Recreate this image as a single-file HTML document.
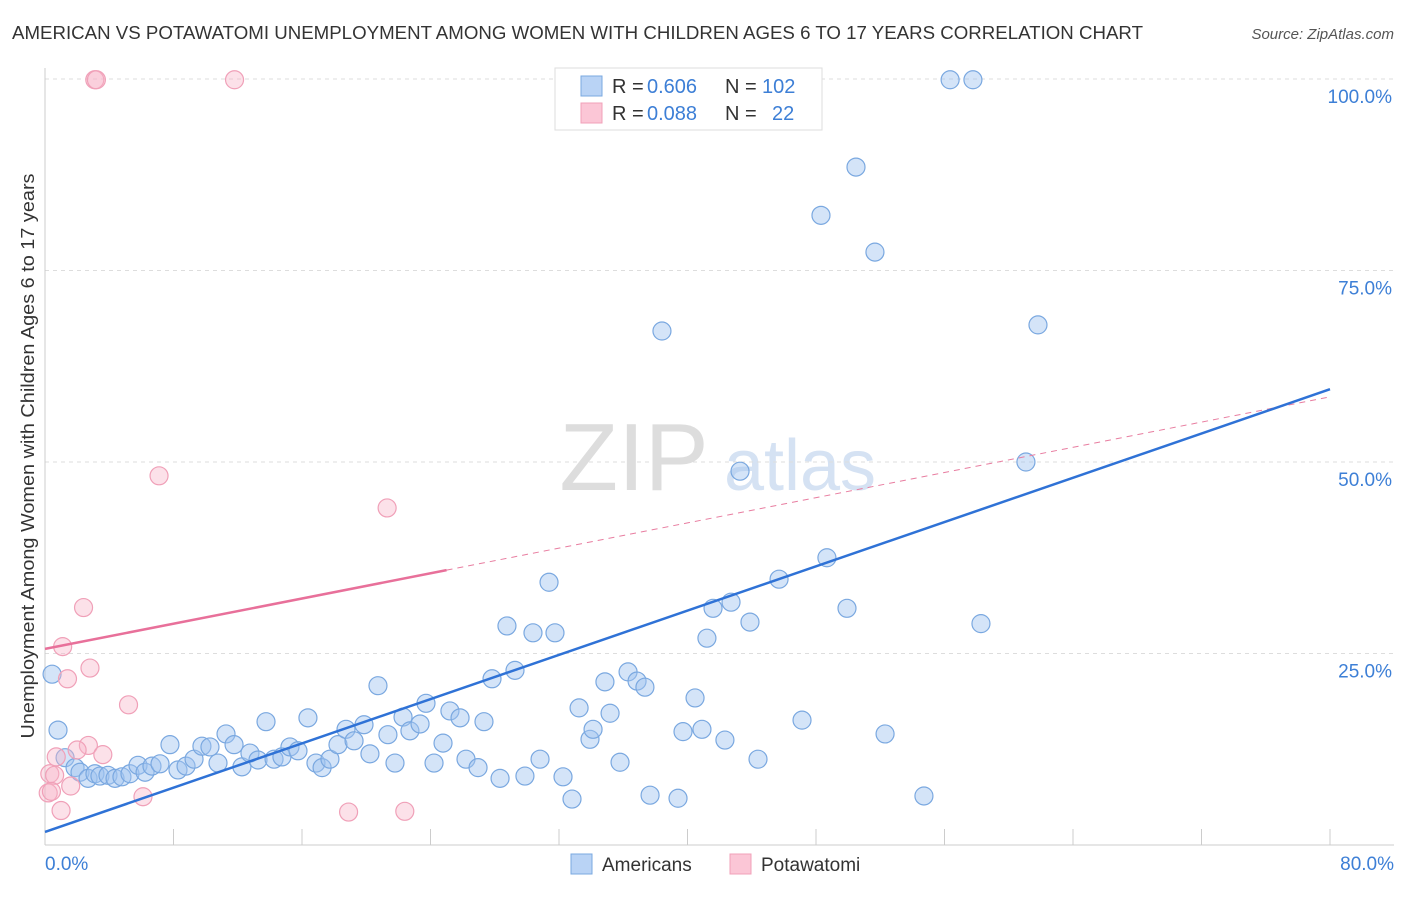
<!DOCTYPE html>
<html><head><meta charset="utf-8">
<style>
body{margin:0;background:#fff;font-family:"Liberation Sans",sans-serif;}
svg text{font-family:"Liberation Sans",sans-serif;}
</style></head>
<body>
<svg id="chart" width="1406" height="892" xmlns="http://www.w3.org/2000/svg">
<text x="12" y="39" font-size="18" fill="#333" textLength="1131" lengthAdjust="spacingAndGlyphs">AMERICAN VS POTAWATOMI UNEMPLOYMENT AMONG WOMEN WITH CHILDREN AGES 6 TO 17 YEARS CORRELATION CHART</text>
<text x="1394" y="39" font-size="15" fill="#555" text-anchor="end" font-style="italic">Source: ZipAtlas.com</text>
<g>
<text x="634" y="490" font-size="96" fill="#ddd" text-anchor="middle" font-family="Liberation Serif">ZIP</text>
<text x="800" y="490" font-size="72" fill="#d5e2f3" text-anchor="middle">atlas</text>
</g>
<g id="grid"></g>
<g id="axes"></g>
<g id="marks"></g>
<text transform="translate(34,456) rotate(-90)" font-size="18" fill="#333" text-anchor="middle" textLength="565" lengthAdjust="spacingAndGlyphs">Unemployment Among Women with Children Ages 6 to 17 years</text>
<g>
<rect x="555" y="68" width="267" height="62" fill="#fff" stroke="#ddd"/>
<rect x="581" y="76" width="21" height="20" fill="#b9d3f5" stroke="#7aa8e0"/>
<rect x="581" y="103" width="21" height="20" fill="#fbc6d6" stroke="#f0a0b8"/>
<text x="612" y="93" font-size="20" fill="#333">R =</text>
<text x="647" y="93" font-size="20" fill="#3d7fd6">0.606</text>
<text x="725" y="93" font-size="20" fill="#333">N =</text>
<text x="762" y="93" font-size="20" fill="#3d7fd6">102</text>
<text x="612" y="120" font-size="20" fill="#333">R =</text>
<text x="647" y="120" font-size="20" fill="#3d7fd6">0.088</text>
<text x="725" y="120" font-size="20" fill="#333">N =</text>
<text x="772" y="120" font-size="20" fill="#3d7fd6">22</text>
</g>
<g>
<rect x="571" y="854" width="21" height="20" fill="#b9d3f5" stroke="#7aa8e0"/>
<text x="602" y="871" font-size="19" fill="#333">Americans</text>
<rect x="730" y="854" width="21" height="20" fill="#fbc6d6" stroke="#f0a0b8"/>
<text x="761" y="871" font-size="19" fill="#333">Potawatomi</text>
</g>
</svg>
<script>
const yTicks=[25,50,75,100];
const yTickLabels=["25.0%","50.0%","75.0%","100.0%"];
const xTicks=[0,8,16,24,32,40,48,56,64,72,80];
const americansX=[0.44,0.81,1.25,1.87,2.18,2.68,3.11,3.42,3.92,4.36,4.79,5.29,5.79,6.23,6.66,7.16,7.78,8.28,8.78,9.28,9.77,10.27,10.77,11.27,11.77,12.26,12.76,13.26,13.76,14.26,14.75,15.25,15.75,16.37,16.87,17.25,17.74,18.24,18.74,19.24,19.86,20.23,20.73,21.35,21.79,22.29,22.72,23.35,23.72,24.22,24.78,25.21,25.84,26.21,26.96,27.33,27.83,28.33,28.76,29.26,29.88,30.38,30.82,31.38,31.75,32.25,32.81,33.25,33.93,34.12,34.86,35.18,35.80,36.30,36.86,37.35,37.67,38.41,39.41,39.72,40.47,40.90,41.21,41.59,42.33,42.71,43.27,43.89,44.39,45.70,47.13,48.31,48.68,49.93,50.49,51.67,52.30,54.72,56.35,57.77,58.27,61.07,61.82];
const americansY=[22.3,15.0,11.4,10.1,9.5,8.7,9.3,9.0,9.1,8.7,8.9,9.3,10.4,9.5,10.3,10.6,13.1,9.8,10.3,11.2,12.9,12.8,10.7,14.5,13.1,10.2,12.0,11.1,16.1,11.2,11.5,12.8,12.3,16.6,10.7,10.1,11.2,13.1,15.1,13.6,15.7,11.9,20.8,14.4,10.7,16.7,14.9,15.8,18.5,10.7,13.3,17.5,16.6,11.2,10.1,16.1,21.7,8.7,28.6,22.8,9.0,27.7,11.2,34.3,27.7,8.9,6.0,17.9,13.8,15.1,21.3,17.2,10.8,22.6,21.4,20.6,6.5,67.1,6.1,14.8,19.2,15.1,27.0,30.9,13.7,31.7,48.8,29.1,11.2,34.7,16.3,82.2,37.5,30.9,88.5,77.4,14.5,6.4,99.9,99.9,28.9,50.0,67.9];
const potawatomiX=[3.1,3.2,11.8,7.1,21.3,2.4,1.1,1.4,2.8,5.2,2.7,3.6,2.0,0.7,0.3,0.6,0.2,0.4,1.6,1.0,6.1,18.9,22.4];
const potawatomiY=[99.9,99.9,99.9,48.2,44.0,31.0,25.9,21.7,23.1,18.3,13.0,11.8,12.4,11.5,9.3,9.1,6.8,7.0,7.7,4.5,6.3,4.3,4.4];
const americanLine=[1.7,59.5];
const potawatomiLine=[25.6,58.5];
const potawatomiSolidEnd=25;

const NS="http://www.w3.org/2000/svg";
const X=v=>45+v*(1330-45)/80;
const Y=v=>845-v*(845-79)/100;
function mk(tag,attrs,parent){const e=document.createElementNS(NS,tag);for(const k in attrs)e.setAttribute(k,attrs[k]);document.getElementById(parent).appendChild(e);return e;}
yTicks.forEach((t,i)=>{
 const g=mk('line',{x1:45,x2:1394,y1:Y(t),y2:Y(t),stroke:'#ddd','stroke-dasharray':'4,4'},'grid');
 
 
 const l=mk('text',{x:1392,y:Y(t)+24,'font-size':19,fill:'#3d7fd6','text-anchor':'end'},'axes');
 l.textContent=yTickLabels[i];
 
 
});
const topGrid=mk('line',{x1:45,x2:1394,y1:Y(100),y2:Y(100),stroke:'#ddd','stroke-dasharray':'4,4'},'grid');


const xa=mk('line',{x1:45,x2:1394,y1:845,y2:845,stroke:'#ccc'},'axes');


const ya=mk('line',{x1:45,x2:45,y1:68,y2:845,stroke:'#ccc'},'axes');


xTicks.forEach(t=>{
 const e=mk('line',{x1:X(t),x2:X(t),y1:829,y2:845,stroke:'#ccc'},'axes');
 
 
});
const xMinLabel=mk('text',{x:45,y:870,'font-size':19,fill:'#3d7fd6'},'axes');xMinLabel.textContent='0.0%';


const xMaxLabel=mk('text',{x:1394,y:870,'font-size':19,fill:'#3d7fd6','text-anchor':'end'},'axes');xMaxLabel.textContent='80.0%';


americansX.forEach((v,i)=>{
 const c=mk('circle',{cx:X(v),cy:Y(americansY[i]),r:9,fill:'rgba(160,195,240,0.45)',stroke:'#7aa8e0','stroke-width':1.2},'marks');
 
 
});
potawatomiX.forEach((v,i)=>{
 const c=mk('circle',{cx:X(v),cy:Y(potawatomiY[i]),r:9,fill:'rgba(248,180,200,0.4)',stroke:'#f0a0b8','stroke-width':1.2},'marks');
 
 
});
const pAt=x=>potawatomiLine[0]+(potawatomiLine[1]-potawatomiLine[0])*x/80;
const pd=mk('line',{x1:X(potawatomiSolidEnd),y1:Y(pAt(potawatomiSolidEnd)),x2:X(80),y2:Y(potawatomiLine[1]),stroke:'#e87da0','stroke-width':1,'stroke-dasharray':'6,5'},'marks');


const ps=mk('line',{x1:X(0),y1:Y(potawatomiLine[0]),x2:X(potawatomiSolidEnd),y2:Y(pAt(potawatomiSolidEnd)),stroke:'#e8709a','stroke-width':2.5},'marks');


const al=mk('line',{x1:X(0),y1:Y(americanLine[0]),x2:X(80),y2:Y(americanLine[1]),stroke:'#2f72d6','stroke-width':2.5},'marks');


</script>
</body></html>
